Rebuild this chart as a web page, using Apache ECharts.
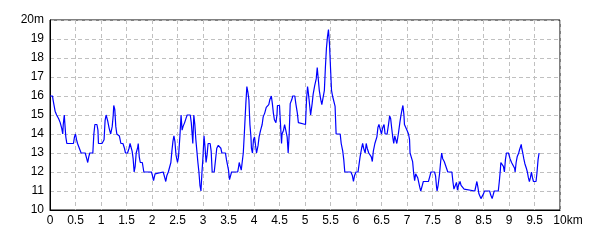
<!DOCTYPE html>
<html><head><meta charset="utf-8">
<script src="https://cdn.jsdelivr.net/npm/echarts@6/dist/echarts.min.js"></script>
<style>html,body{margin:0;padding:0;background:#fff}#c{width:600px;height:240px}</style>
</head><body><div id="c"></div>
<script>
const distKm = [0.00,0.05,0.06,0.10,0.13,0.17,0.20,0.23,0.25,0.26,0.28,0.29,0.31,0.33,0.46,0.48,0.50,0.52,0.54,0.57,0.61,0.69,0.72,0.74,0.76,0.78,0.84,0.86,0.88,0.92,0.94,0.95,1.02,1.06,1.08,1.10,1.13,1.16,1.19,1.22,1.24,1.25,1.27,1.29,1.31,1.36,1.39,1.43,1.46,1.48,1.52,1.55,1.57,1.61,1.63,1.65,1.67,1.69,1.72,1.73,1.75,1.77,1.81,1.84,1.99,2.01,2.03,2.06,2.08,2.22,2.25,2.27,2.29,2.32,2.35,2.37,2.39,2.41,2.43,2.45,2.47,2.50,2.52,2.55,2.57,2.59,2.61,2.64,2.67,2.69,2.75,2.77,2.79,2.80,2.82,2.84,2.86,2.88,2.90,2.92,2.94,2.96,2.98,3.00,3.02,3.04,3.06,3.08,3.10,3.14,3.16,3.18,3.22,3.24,3.27,3.30,3.32,3.35,3.37,3.44,3.46,3.50,3.52,3.54,3.56,3.68,3.70,3.71,3.73,3.75,3.77,3.79,3.81,3.84,3.86,3.88,3.90,3.92,3.94,3.95,3.97,3.99,4.01,4.03,4.05,4.08,4.10,4.13,4.16,4.18,4.21,4.24,4.26,4.29,4.31,4.34,4.36,4.38,4.40,4.43,4.45,4.46,4.50,4.52,4.54,4.55,4.58,4.60,4.63,4.65,4.67,4.69,4.71,4.74,4.76,4.80,4.82,4.85,4.87,4.90,5.01,5.03,5.05,5.06,5.08,5.11,5.14,5.16,5.19,5.22,5.24,5.25,5.28,5.31,5.33,5.36,5.38,5.40,5.42,5.44,5.46,5.48,5.50,5.52,5.54,5.57,5.59,5.61,5.63,5.69,5.71,5.74,5.76,5.78,5.90,5.93,5.95,5.97,6.00,6.04,6.06,6.08,6.11,6.13,6.15,6.18,6.20,6.22,6.25,6.28,6.30,6.32,6.34,6.37,6.39,6.41,6.43,6.45,6.47,6.50,6.52,6.55,6.57,6.61,6.64,6.66,6.68,6.70,6.72,6.74,6.76,6.78,6.80,6.83,6.86,6.88,6.90,6.92,6.94,6.95,6.98,7.00,7.03,7.05,7.06,7.09,7.11,7.13,7.15,7.17,7.19,7.21,7.23,7.25,7.27,7.30,7.32,7.42,7.45,7.47,7.54,7.56,7.58,7.59,7.61,7.64,7.66,7.68,7.70,7.73,7.76,7.80,7.88,7.90,7.92,7.94,7.95,7.97,7.99,8.01,8.04,8.06,8.09,8.12,8.14,8.33,8.35,8.37,8.39,8.41,8.45,8.47,8.50,8.52,8.62,8.64,8.67,8.69,8.71,8.79,8.81,8.83,8.84,8.87,8.89,8.91,8.93,8.95,8.99,9.02,9.05,9.08,9.11,9.12,9.14,9.16,9.19,9.21,9.24,9.25,9.27,9.29,9.31,9.34,9.36,9.38,9.40,9.42,9.44,9.46,9.48,9.53,9.55,9.57,9.59,9.60];
const elevM = [16,16,15.8,15.2,15,14.8,14.6,14.3,14.0,14.5,15,14.6,13.85,13.5,13.5,13.85,14,13.7,13.5,13.5,13,13,12.7,12.5,12.8,13,13,14,14.5,14.5,14.2,13.5,13.5,13.7,14.7,15,14.7,14.3,14,14.4,15,15.5,15.3,14.4,14,13.9,13.5,13.5,13.25,13,13,13.25,13.5,13.1,12.7,12,12.3,13,13.3,13.5,12.8,12.5,12.5,12,12,11.8,11.55,11.9,12,12,11.7,11.5,11.8,12,12,12.5,13.1,13.6,13.9,13.6,12.9,12.5,12.8,14,15,14.2,14.4,14.6,14.85,15,15,14.6,13.9,13.5,15,14.5,13.7,13.1,12.5,12,11.3,11.0,12,12.8,13.9,13.3,12.5,12.9,13.5,13.5,13.1,12,12,12.5,13.25,13.4,13.5,13.25,13,13,12.65,12.1,11.6,11.8,12,12,12.3,12.5,12.3,12.1,12,13,14,15.6,16.5,16.2,15.8,14.5,13.85,13.25,13,13.7,13.85,13.4,13,13.4,13.85,14.2,14.5,14.9,15.1,15.4,15.5,15.55,15.8,16.0,15.6,15.1,14.75,14.6,15,15.5,15.5,14.5,13.5,14,14.2,14.5,14.5,13.85,13,14,15.6,15.8,16,16,15.6,15.1,14.6,14.5,14.5,15.8,16.5,16.3,15.8,15,15.6,16.1,16.55,16.9,17.5,17.2,16.3,15.8,15.55,15.55,16.3,17.5,18.5,19.1,19.5,18.75,17.5,16.3,16,16,15.45,14,14,14,13.5,13.1,12.65,12,12,11.8,11.5,11.8,12,12,12.4,12.8,13.25,13.5,13.25,13,13.5,13.25,13,12.9,12.8,12.55,13.1,13.5,13.5,13.85,14.35,14.5,14.3,14,14.3,14.5,14,14,14.55,14.95,14.8,14.3,13.85,13.5,13.9,13.8,13.5,14,14.6,14.95,15.25,15.5,15,14.5,14.5,14.2,14,13.7,13,13,12.55,11.95,11.55,11.9,12,11.7,11.45,11.2,11.0,11.3,11.5,11.5,11.8,12,12,11.8,11.2,11,11.3,11.95,12.55,13,12.7,12.55,12.5,12,12,11.5,11.1,11,11.2,11.45,11.05,11.3,11.5,11.3,11.3,11.1,11,11,11.1,11.5,11.2,10.85,10.6,10.7,10.85,11,11,10.8,10.6,10.8,11,11,11.5,12.1,12.5,12.5,12.3,12,12.65,13,13,12.7,12.5,12.45,12.2,12,12.5,12.8,13,13.2,13.45,13.25,13,12.7,12.45,12.2,12,11.7,11.5,11.7,12,11.7,11.5,11.5,12,12.65,13,13];
const xMin = 0, xMax = 10, xStep = 0.5;
const yMin = 10, yMax = 20, yStep = 1;
const xUnit = 'km', yUnit = 'm';

const chart = echarts.init(document.getElementById('c'), null, {renderer:'canvas'});
const font = 'Liberation Sans';
chart.setOption({
  animation:false,
  backgroundColor:'#ffffff',
  grid:{left:50,right:40,top:20,bottom:30,show:true,borderColor:'#000',borderWidth:1,backgroundColor:'transparent'},
  xAxis:{type:'value',min:xMin,max:xMax,interval:xStep,
    axisLine:{show:true,lineStyle:{color:'#000',width:1}},
    axisTick:{show:false},
    splitLine:{show:true,lineStyle:{color:'#c0c0c0',type:[4,3],width:1}},
    axisLabel:{color:'#000',fontFamily:font,fontSize:12,margin:5,
      formatter:v=> v===xMax ? '{u|'+v+xUnit+'}' : String(v),
      rich:{u:{color:'#000',fontFamily:font,fontSize:12,padding:[0,0,0,16]}}}},
  yAxis:{type:'value',min:yMin,max:yMax,interval:yStep,
    axisLine:{show:true,lineStyle:{color:'#000',width:1}},
    axisTick:{show:false},
    splitLine:{show:true,lineStyle:{color:'#c0c0c0',type:[4,3],width:1}},
    axisLabel:{color:'#000',fontFamily:font,fontSize:12,margin:6,
      formatter:v=> v===yMax ? v+yUnit : String(v)}},
  series:[{type:'line',data:distKm.map((d,i)=>[d,elevM[i]]),showSymbol:false,
    lineStyle:{color:'#0000ff',width:1.2},itemStyle:{color:'#0000ff'}}]
});
</script></body></html>
